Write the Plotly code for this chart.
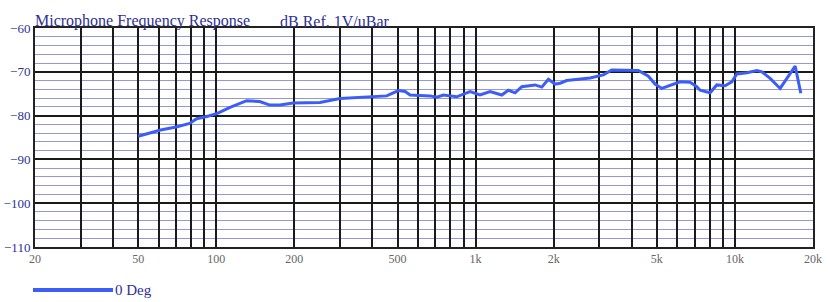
import plotly.graph_objects as go
import numpy as np

freq_hz = [50, 61, 70, 79, 84, 92, 101, 113, 131, 147, 161, 176, 198, 251, 300, 392, 454,
           504, 535, 559, 667, 708, 751, 846, 952, 1040, 1137, 1262, 1337, 1420, 1507, 1695,
           1800, 1908, 2025, 2120, 2245, 2762, 3110, 3350, 3715, 4243, 4637, 4920, 5222,
           5708, 6144, 6716, 7128, 7339, 7786, 8019, 8512, 9163, 9726, 10170, 11120, 12150,
           12700, 13670, 14940, 16080, 17070, 17950]
level_db = [-84.7, -83.3, -82.6, -81.8, -80.7, -80.2, -79.5, -78.1, -76.6, -76.8, -77.6,
            -77.6, -77.1, -77.0, -76.1, -75.7, -75.5, -74.3, -74.5, -75.3, -75.5, -75.8,
            -75.3, -75.7, -74.5, -75.3, -74.5, -75.3, -74.2, -74.8, -73.4, -73.0, -73.5,
            -71.7, -72.8, -72.6, -72.0, -71.4, -70.7, -69.6, -69.6, -69.7, -71.0, -72.8,
            -73.8, -73.0, -72.3, -72.4, -73.4, -74.2, -74.6, -74.8, -73.0, -73.2, -72.3,
            -70.5, -70.2, -69.7, -70.0, -71.5, -73.8, -71.1, -68.7, -74.9]

grid_freqs = [20, 30, 40, 50, 60, 70, 80, 90, 100, 200, 300, 400, 500, 600, 700, 800, 900,
              1000, 2000, 3000, 4000, 5000, 6000, 7000, 8000, 9000, 10000, 20000]
labeled = {20: "20", 50: "50", 100: "100", 200: "200", 500: "500", 1000: "1k",
           2000: "2k", 5000: "5k", 10000: "10k", 20000: "20k"}
x_ticktext = [labeled.get(f, "") for f in grid_freqs]
y_ticks = [-60, -70, -80, -90, -100, -110]
y_minor = [v for v in range(-108, -60, 2) if v % 10 != 0]

title_left = "Microphone Frequency Response"
title_right = "dB Ref. 1V/uBar"
series_name = "0 Deg"

navy = "#2e3192"
line_blue = "#3d5ef5"
serif = "Liberation Serif, Times New Roman, serif"

fig = go.Figure()
fig.add_trace(go.Scatter(x=freq_hz, y=level_db, mode="lines", name=series_name,
                         line=dict(color=line_blue, width=3), showlegend=False))

fig.update_layout(
    width=828, height=302,
    margin=dict(l=35, r=15, t=28, b=55, autoexpand=False),
    paper_bgcolor="white", plot_bgcolor="white",
    font=dict(family=serif),
    xaxis=dict(type="log", range=[np.log10(20), np.log10(20000)],
               tickvals=grid_freqs, ticktext=x_ticktext, automargin=False,
               showgrid=True, gridcolor="#1a1a1a", gridwidth=2,
               showline=True, linecolor="#222", linewidth=2, mirror=True,
               ticks="", tickfont=dict(color="#666", size=12, family=serif),
               zeroline=False),
    yaxis=dict(range=[-110, -60], tickvals=y_ticks, automargin=False,
               showgrid=True, gridcolor="#1a1a1a", gridwidth=2,
               minor=dict(tickvals=y_minor, showgrid=True,
                          gridcolor="rgba(80,80,200,0.6)", gridwidth=1, ticks=""),
               showline=True, linecolor="#222", linewidth=2, mirror=True,
               ticks="", ticklabelstandoff=0,
               tickfont=dict(color=navy, size=13, family=serif),
               zeroline=False),
)

fig.add_annotation(text=title_left, xref="paper", yref="paper", x=0, y=1.0,
                   xanchor="left", yanchor="bottom", showarrow=False,
                   font=dict(color=navy, size=16, family=serif), xshift=-2, yshift=-4)
fig.add_annotation(text=title_right, xref="paper", yref="paper", x=(280 - 35) / 778, y=1.0,
                   xanchor="left", yanchor="bottom", showarrow=False,
                   font=dict(color=navy, size=16, family=serif), xshift=-2, yshift=-4)

# legend
fig.add_shape(type="line", xref="paper", yref="paper",
              x0=(33 - 35) / 778, x1=(113 - 35) / 778,
              y0=-(290 - 247) / 219, y1=-(290 - 247) / 219,
              line=dict(color=line_blue, width=4))
fig.add_annotation(text=series_name, xref="paper", yref="paper",
                   x=(113 - 35) / 778, y=-(290 - 247) / 219,
                   xanchor="left", yanchor="middle", showarrow=False,
                   font=dict(color=navy, size=15, family=serif))

fig.write_html("out.html", config={"displayModeBar": False},
               post_script="document.body.style.margin='0px';document.body.style.overflow='hidden';")
